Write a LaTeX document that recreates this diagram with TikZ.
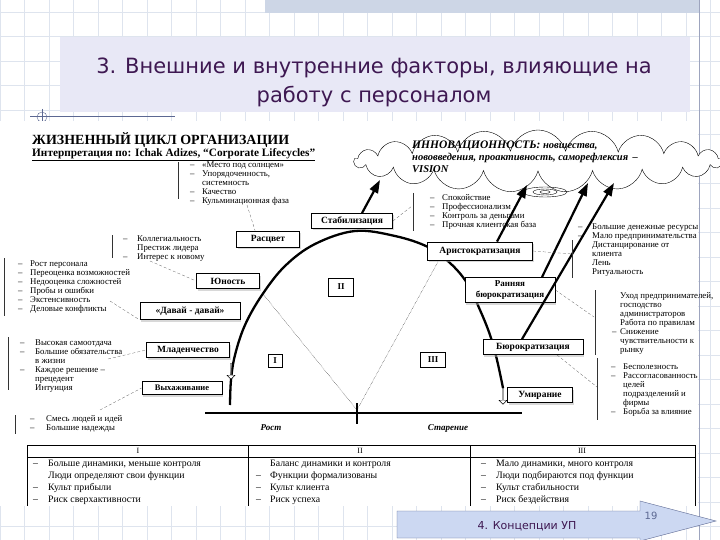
\documentclass[tikz,border=0pt]{standalone}
\usepackage{fontspec}
\setmainfont{Liberation Serif}
\newfontfamily\slidefont{DejaVu Sans}
\usetikzlibrary{positioning,calc,shapes.symbols,shapes.arrows,shadows,arrows.meta}

\definecolor{gridblue}{RGB}{222,228,238}
\definecolor{bandblue}{RGB}{205,214,230}
\definecolor{titlebg}{RGB}{232,232,246}
\definecolor{titleink}{RGB}{62,24,82}
\definecolor{navfill}{RGB}{204,216,242}
\definecolor{navline}{RGB}{92,104,146}

\newcommand{\dashlist}[2]{\begin{tabular}{@{}p{#1}@{}l@{}}#2\end{tabular}}

\tikzset{
  stagebox/.style={draw, line width=0.8pt, fill=white, inner sep=1pt,
    font=\bfseries\fontsize{9.5}{11}\selectfont,
    drop shadow={shadow xshift=1pt, shadow yshift=-2pt, fill=black!30}},
  numbox/.style={draw, thin, fill=white, inner sep=1pt, font=\bfseries\fontsize{9}{10}\selectfont},
  lst/.style={anchor=north west, inner sep=0pt, font=\fontsize{8.8}{9}\selectfont},
  tbl/.style={anchor=north west, inner sep=0pt, font=\fontsize{9.8}{12}\selectfont},
  leader/.style={very thin, densely dashed, black!75},
  bracket/.style={thin, black!80},
  bigarrow/.style={line width=2.2pt, -{Triangle[length=13pt,width=9pt]}},
  hollow/.style={single arrow, draw, fill=white, thin, shape border rotate=270,
    minimum width=8pt, minimum height=16pt, single arrow head extend=1.5pt, inner sep=0pt}
}

\begin{document}
\begin{tikzpicture}[x=1pt,y=-1pt]
  \useasboundingbox (0,0) rectangle (720,540);

  % slide background
  \fill[white] (0,0) rectangle (720,540);
  \foreach \gx in {0,24.5,...,720} \draw[gridblue] (\gx,0) -- (\gx,540);
  \foreach \gy in {12,36.5,...,540} \draw[gridblue] (0,\gy) -- (720,\gy);
  \fill[bandblue] (265,0) rectangle (699,13);
  \draw[navline!60, thick] (699,0) -- (699,540);
  \fill[titlebg] (60,37) rectangle (690,112);
  \node[font=\slidefont\fontsize{21}{29}\selectfont, text=titleink, align=center] (title) at (374,82)
    {3. Внешние и внутренние факторы, влияющие на\\работу с персоналом};
  \draw[navline] (30,116) -- (175,116);
  \draw[navline] (42,117) circle (5);
  \draw[navline] (42,109) -- (42,125);

  % scanned sheet
  \fill[white] (0,121) rectangle (698,506);
  \node[anchor=west, inner sep=0pt, font=\bfseries\fontsize{14}{16}\selectfont] (head) at (32,140)
    {ЖИЗНЕННЫЙ ЦИКЛ ОРГАНИЗАЦИИ};
  \node[anchor=west, inner sep=0pt, font=\bfseries\fontsize{11.3}{12}\selectfont] (subhead) at (32,155)
    {\underline{Интерпретация по: Ichak Adizes, “Corporate Lifecycles”}};

  % cloud
  \node[cloud, draw, thin, fill=white, cloud puffs=21, cloud ignores aspect,
    minimum width=368pt, minimum height=62pt] (cloud) at (538,161) {};
  \node[anchor=north west, inner sep=0pt, align=left, font=\bfseries\itshape\fontsize{10.5}{12}\selectfont] (cloudtxt) at (412,141)
    {{\fontsize{11.5}{12}\selectfont ИННОВАЦИОННОСТЬ:} новшества,\\нововведения, проактивность, саморефлексия \,–\\VISION};
  \draw[thin] (545,192) ellipse (22 and 5);
  \draw[thin] (545,192) ellipse (12 and 3);
  \draw[thin] (545,192) ellipse (5 and 1.5);

  % life cycle curve
  \draw[line width=2.3pt] plot[smooth, tension=0.6] coordinates {(230,405) (231,380) (235,355) (245,325)
    (262,295) (285,266) (315,244) (355,231) (395,236) (428,247) (450,263) (467,283) (480,310)
    (490,335) (497,360) (503,388)};
  \coordinate (tick) at (357,410);
  \coordinate (cyoung) at (263,294);
  \coordinate (carist) at (440,258);
  \draw[thin, densely dotted] (cyoung) -- (tick) -- (carist);
  \coordinate (growL) at (205,413);
  \coordinate (growR) at (522,413);
  \draw[line width=1.8pt] (growL) -- (growR);
  \draw[line width=2.4pt] (357,403) -- (357,424);
  \node[font=\bfseries\itshape\fontsize{9}{10}\selectfont] (rost) at (271,428) {Рост};
  \node[font=\bfseries\itshape\fontsize{9}{10}\selectfont] (star) at (448,428) {Старение};

  % stage boxes
  \node[stagebox, minimum width=81pt, minimum height=15pt] (stab) at (352,221) {Стабилизация};
  \node[stagebox, minimum width=63pt, minimum height=16pt] (rascvet) at (268,239) {Расцвет};
  \node[stagebox, minimum width=63pt, minimum height=15pt] (yunost) at (228,281) {Юность};
  \node[stagebox, minimum width=100pt, minimum height=17pt] (davai) at (190,311) {«Давай - давай»};
  \node[stagebox, minimum width=83pt, minimum height=15pt] (mlad) at (188,350) {Младенчество};
  \node[stagebox, minimum width=80pt, minimum height=13pt, font=\bfseries\fontsize{8.5}{10}\selectfont] (vyh) at (182,388) {Выхаживание};
  \node[stagebox, minimum width=105pt, minimum height=18pt] (arist) at (480,251) {Аристократизация};
  \node[stagebox, minimum width=90pt, minimum height=25pt, align=center,
    font=\bfseries\fontsize{9}{10.5}\selectfont] (rannyaya) at (510,290) {Ранняя\\бюрократизация};
  \node[stagebox, minimum width=100pt, minimum height=15pt] (bur) at (533,347) {Бюрократизация};
  \node[stagebox, minimum width=65pt, minimum height=15pt] (umir) at (540,395) {Умирание};
  \node[numbox, minimum width=14pt, minimum height=13pt] (n1) at (275,361) {I};
  \node[numbox, minimum width=25pt, minimum height=18pt] (n2) at (341,287) {II};
  \node[numbox, minimum width=25pt, minimum height=15pt] (n3) at (433,360) {III};
  \node[hollow] (hmlad) at (231,371) {};
  \node[hollow] (humir) at (503,396) {};

  % arrows to the cloud
  \coordinate (tip1) at (380,180);
  \coordinate (tip2) at (527,185);
  \coordinate (tip3) at (588,183);
  \coordinate (tip4) at (614,183);
  \draw[bigarrow] ($(stab.north)+(10,0)$) -- (tip1);
  \draw[bigarrow] ($(arist.north)+(17,0)$) -- (tip2);
  \draw[bigarrow] ($(rannyaya.north)+(32,0)$) -- (tip3);
  \draw[bigarrow] ($(bur.north)+(-11,0)$) -- (tip4);

  % factor lists
  \node[lst] (lstRascvet) at (190,161) {\dashlist{12pt}{–&«Место под солнцем»\\–&Упорядоченность,\\&системность\\–&Качество\\–&Кульминационная фаза}};
  \draw[bracket] (178,162) -- (178,199);
  \node[lst] (lstYunost) at (123,235) {\dashlist{14pt}{–&Коллегиальность\\&Престиж лидера\\–&Интерес к новому}};
  \draw[bracket] (112,235) -- (112,258);
  \node[lst] (lstDavai) at (18,260) {\dashlist{12pt}{–&Рост персонала\\–&Переоценка возможностей\\–&Недооценка сложностей\\–&Пробы и ошибки\\–&Экстенсивность\\–&Деловые конфликты}};
  \draw[bracket] (4,258) -- (4,316);
  \node[lst] (lstMlad) at (20,339) {\dashlist{15pt}{–&Высокая самоотдача\\–&Большие обязательства\\&в жизни\\–&Каждое решение –\\&прецедент\\&Интуиция}};
  \draw[bracket] (8,337) -- (8,390);
  \node[lst] (lstVyh) at (30,415) {\dashlist{16pt}{–&Смесь людей и идей\\–&Большие надежды}};
  \draw[bracket] (15,415) -- (15,434);
  \node[lst] (lstStab) at (430,194) {\dashlist{12pt}{–&Спокойствие\\–&Профессионализм\\–&Контроль за деньгами\\–&Прочная клиентская база}};
  \draw[bracket] (413,193) -- (413,231);
  \node[lst] (lstArist) at (578,223) {\dashlist{14pt}{–&Большие денежные ресурсы\\–&Мало предпринимательства\\&Дистанцирование от\\&клиента\\&Лень\\&Ритуальность}};
  \draw[bracket] (572,240) -- (572,278);
  \node[lst] (lstRannyaya) at (612,292) {\dashlist{8pt}{&Уход предпринимателей,\\&господство\\&администраторов\\&Работа по правилам\\–&Снижение\\&чувствительности к\\&рынку}};
  \draw[bracket] (595,290) -- (595,355);
  \node[lst] (lstBur) at (611,363) {\dashlist{12pt}{–&Бесполезность\\–&Рассогласованность\\&целей\\&подразделений и\\&фирмы\\–&Борьба за влияние}};
  \draw[bracket] (597,358) -- (597,420);

  % leader lines
  \coordinate (lRa) at (247,205);
  \coordinate (lYu) at (150,261);
  \coordinate (lDa) at (110,301);
  \coordinate (lMl) at (108,359);
  \coordinate (lVy) at (100,410);
  \coordinate (lSt) at (412,206);
  \coordinate (lAr) at (572,254);
  \coordinate (lRn) at (594,317);
  \coordinate (lBu) at (597,387);
  \draw[leader] (lRa) -- ($(rascvet.north west)+(19,0)$);
  \draw[leader] (lYu) -- (yunost.west);
  \draw[leader] (lDa) -- (davai.south west);
  \draw[leader] (lMl) -- (mlad.west);
  \draw[leader] (lVy) -- (vyh.west);
  \draw[leader] (stab.east) -- (lSt);
  \draw[leader] (arist.east) -- (lAr);
  \draw[leader] (rannyaya.east) -- (lRn);
  \draw[leader] ($(bur.south)+(24,0)$) -- (lBu);

  % table
  \draw[thin] (27,445) -- (695,445);
  \draw[thin] (27,457) -- (695,457);
  \foreach \cx in {27,248,470,695} \draw[thin] (\cx,445) -- (\cx,506);
  \node[font=\fontsize{8}{9}\selectfont] (h1) at (138,451) {I};
  \node[font=\fontsize{8}{9}\selectfont] (h2) at (360,451) {II};
  \node[font=\fontsize{8}{9}\selectfont] (h3) at (582,451) {III};
  \node[tbl] (col1) at (33,458) {\dashlist{15pt}{–&Больше динамики, меньше контроля\\&Люди определяют свои функции\\–&Культ прибыли\\–&Риск сверхактивности}};
  \node[tbl] (col2) at (256,458) {\dashlist{14pt}{&Баланс динамики и контроля\\–&Функции формализованы\\–&Культ клиента\\–&Риск успеха}};
  \node[tbl] (col3) at (481,458) {\dashlist{15pt}{–&Мало динамики, много контроля\\–&Люди подбираются под функции\\–&Культ стабильности\\–&Риск бездействия}};

  % navigation arrow
  \draw[navline, fill=navfill] (397,511) -- (640,511) -- (640,501) -- (716,521) -- (640,541) -- (640,538) -- (397,538) -- cycle;
  \node[font=\slidefont\fontsize{11}{13}\selectfont, text=titleink] (nav) at (527,526) {4. Концепции УП};
  \node[font=\slidefont\fontsize{10}{12}\selectfont, text=navline] (page) at (651,516) {19};
\end{tikzpicture}
\end{document}
